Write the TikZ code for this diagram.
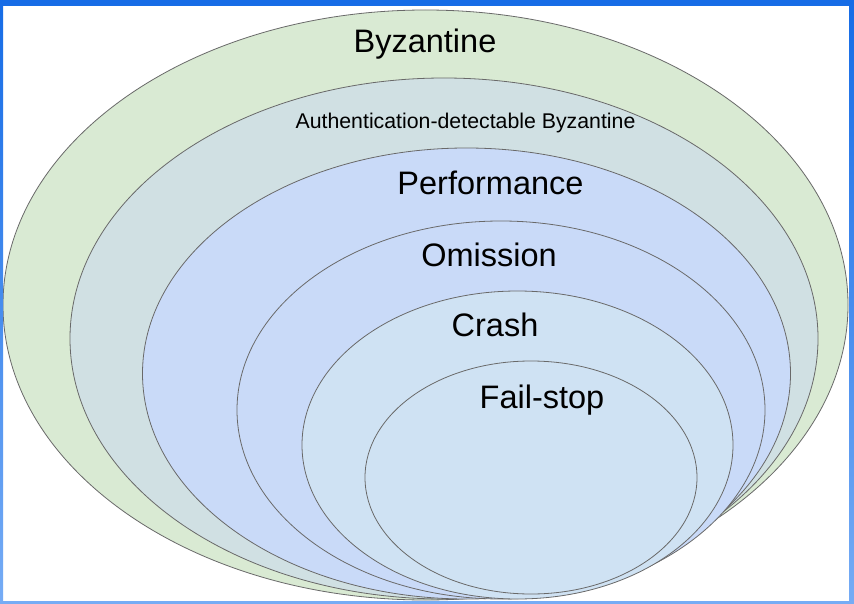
\documentclass[tikz,border=0pt]{standalone}
\usepackage{fontspec}
\setmainfont{Liberation Sans}
\definecolor{frameTop}{RGB}{22,108,230}
\definecolor{frameBot}{RGB}{118,172,245}
\definecolor{byzFill}{HTML}{D9EAD3}
\definecolor{authFill}{HTML}{D0E0E3}
\definecolor{perfFill}{HTML}{C9DAF8}
\definecolor{crashFill}{HTML}{CFE2F3}
\definecolor{rimLine}{RGB}{105,105,105}
\tikzset{
  faultset/.style={draw=rimLine, line width=0.8pt},
  biglabel/.style={anchor=base, inner sep=0pt, font=\fontsize{32.5}{39}\selectfont},
  smalllabel/.style={anchor=base, inner sep=0pt, font=\fontsize{21.3}{26}\selectfont},
}
\begin{document}
\begin{tikzpicture}[x=1pt, y=-1pt]
  \useasboundingbox (0,0) rectangle (854,604);
  % canvas and blue frame
  \fill[white] (0,0) rectangle (854,604);
  \begin{scope}
    \clip (3,6) rectangle (849,601);
    % nested fault classes, outermost first
    \filldraw[faultset, fill=byzFill]   (425.5,305)   ellipse [x radius=422.5pt, y radius=295pt];
    \filldraw[faultset, fill=authFill]  (444,338.5)   ellipse [x radius=374pt,   y radius=260.5pt];
    \filldraw[faultset, fill=perfFill]  (466.5,373.5) ellipse [x radius=324pt,   y radius=225.5pt];
    \filldraw[faultset, fill=perfFill]  (501,410)     ellipse [x radius=264pt,   y radius=189pt];
    \filldraw[faultset, fill=crashFill] (517.5,445)   ellipse [x radius=215.5pt, y radius=154pt];
    \filldraw[faultset, fill=crashFill] (531,477.5)   ellipse [x radius=166pt,   y radius=116.5pt];
  \end{scope}
  \shade[top color=frameTop, bottom color=frameBot, even odd rule]
    (0,0) rectangle (854,604) (3,6) rectangle (849,601);
  % class labels
  \node[biglabel]   (byz)   at (425,53)      {Byzantine};
  \node[smalllabel] (auth)  at (465.5,128.5) {Authentication-detectable Byzantine};
  \node[biglabel]   (perf)  at (490.5,195)   {Performance};
  \node[biglabel]   (omit)  at (489,266)     {Omission};
  \node[biglabel]   (crash) at (495,336)     {Crash};
  \node[biglabel]   (fstop) at (542,408)     {Fail-stop};
\end{tikzpicture}
\end{document}
